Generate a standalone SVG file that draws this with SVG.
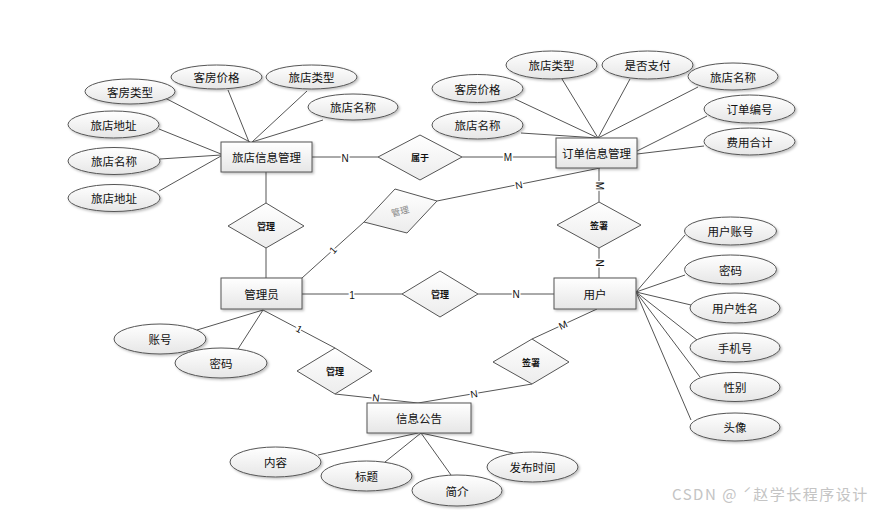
<svg xmlns="http://www.w3.org/2000/svg" width="874" height="510" viewBox="0 0 874 510">
<defs>
<linearGradient id="g" x1="0" y1="0" x2="0" y2="1">
<stop offset="0" stop-color="#ffffff"/>
<stop offset="1" stop-color="#e6e6e6"/>
</linearGradient>
<linearGradient id="gd" x1="0" y1="0" x2="0" y2="1">
<stop offset="0" stop-color="#ffffff"/>
<stop offset="1" stop-color="#ececec"/>
</linearGradient>
<filter id="sh" x="-20%" y="-20%" width="140%" height="150%">
<feDropShadow dx="1.5" dy="1.5" stdDeviation="1" flood-color="#000" flood-opacity="0.25"/>
</filter>
</defs>
<style>
.e{fill:url(#g);stroke:#555;stroke-width:1;filter:url(#sh)}
.a{fill:url(#g);stroke:#555;stroke-width:1;filter:url(#sh)}
.d{fill:url(#gd);stroke:#555;stroke-width:1}
.c line,.c polyline{stroke:#555;stroke-width:1;fill:none}
text{font-family:"Noto Sans CJK SC","Liberation Sans",sans-serif;fill:#111}
.t{font-size:11.5px;text-anchor:middle;dominant-baseline:central}
.dt{font-size:9px;font-weight:bold;text-anchor:middle;dominant-baseline:central}
.l{font-family:"Liberation Sans",sans-serif;font-size:10px;text-anchor:middle;dominant-baseline:central;stroke:#fff;stroke-width:3;paint-order:stroke}
</style>
<rect width="874" height="510" fill="#fff"/>

<g class="c" id="connectors">
<line x1="165" y1="98" x2="250" y2="142"/>
<line x1="228" y1="90" x2="249" y2="142"/>
<line x1="307" y1="91" x2="252" y2="142"/>
<line x1="323" y1="120" x2="252" y2="142"/>
<line x1="159" y1="129" x2="221" y2="154"/>
<line x1="160" y1="159" x2="221" y2="155"/>
<line x1="159" y1="191" x2="221" y2="156"/>
<line x1="312" y1="157" x2="378" y2="157"/>
<line x1="462" y1="157" x2="556" y2="157"/>
<line x1="515" y1="99" x2="598" y2="138"/>
<line x1="521" y1="133" x2="598" y2="138"/>
<line x1="562" y1="79" x2="598" y2="138"/>
<line x1="630" y1="79" x2="598" y2="138"/>
<line x1="698" y1="87" x2="598" y2="138"/>
<line x1="707" y1="116" x2="637" y2="151"/>
<line x1="704" y1="146" x2="637" y2="154"/>
<line x1="599" y1="168" x2="599" y2="202"/>
<line x1="599" y1="248" x2="599" y2="278"/>
<line x1="600" y1="168" x2="437" y2="201"/>
<line x1="364" y1="222" x2="302" y2="278"/>
<line x1="266" y1="172" x2="266" y2="203"/>
<line x1="266" y1="248" x2="266" y2="278"/>
<line x1="302" y1="294" x2="402" y2="294"/>
<line x1="478" y1="294" x2="554" y2="294"/>
<line x1="636" y1="292" x2="685" y2="235"/>
<line x1="636" y1="292" x2="685" y2="275"/>
<line x1="636" y1="292" x2="691" y2="305"/>
<line x1="636" y1="292" x2="697" y2="340"/>
<line x1="636" y1="292" x2="700" y2="377"/>
<line x1="636" y1="292" x2="691" y2="420"/>
<line x1="597" y1="309" x2="532" y2="339"/>
<line x1="532" y1="384" x2="418" y2="403"/>
<line x1="263" y1="310" x2="335" y2="348"/>
<line x1="335" y1="394" x2="418" y2="403"/>
<line x1="197" y1="330" x2="263" y2="310"/>
<line x1="238" y1="349" x2="263" y2="310"/>
<line x1="318" y1="455" x2="418" y2="433"/>
<line x1="385" y1="462" x2="421" y2="433"/>
<line x1="451" y1="475" x2="421" y2="433"/>
<line x1="513" y1="453" x2="421" y2="433"/>
<text class="l" x="345" y="158">N</text>
<text class="l" x="508" y="157">M</text>
<text class="l" x="599" y="186" transform="rotate(90 599 186)">M</text>
<text class="l" x="599" y="263" transform="rotate(90 599 263)">N</text>
<text class="l" x="519" y="185" transform="rotate(-11 519 185)">N</text>
<text class="l" x="333" y="250" transform="rotate(-48 333 250)">1</text>
<text class="l" x="352" y="295">1</text>
<text class="l" x="516" y="294">N</text>
<text class="l" x="563" y="325" transform="rotate(-25 563 325)">M</text>
<text class="l" x="474" y="394" transform="rotate(-9 474 394)">N</text>
<text class="l" x="299" y="329" transform="rotate(28 299 329)">1</text>
<text class="l" x="376" y="398" transform="rotate(6 376 398)">N</text>
</g>

<g id="hotel"><rect class="e" x="221" y="142" width="91" height="30"/><text class="t" x="266.5" y="157">旅店信息管理</text></g>
<g id="order"><rect class="e" x="556" y="138" width="81" height="30"/><text class="t" x="596.5" y="153">订单信息管理</text></g>
<g id="admin"><rect class="e" x="221" y="278" width="81" height="31"/><text class="t" x="261.5" y="293.5">管理员</text></g>
<g id="user"><rect class="e" x="554" y="278" width="82" height="31"/><text class="t" x="595" y="293.5">用户</text></g>
<g id="notice"><rect class="e" x="367" y="403" width="104" height="30"/><text class="t" x="419" y="418">信息公告</text></g>

<g id="r-belong"><polygon class="d" points="378,157 420,135 462,157 420,180"/><text class="dt" x="420" y="157">属于</text></g>
<g id="r-manage-hotel"><polygon class="d" points="228,226 266,203 304,226 266,248"/><text class="dt" x="266" y="226">管理</text></g>
<g id="r-manage-order"><polygon class="d" points="395,189 437,201 407,233 364,222"/><text x="400" y="211" font-size="9" fill="#888" style="fill:#888" text-anchor="middle" dominant-baseline="central" transform="rotate(-15 400 211)">管理</text></g>
<g id="r-sign-order"><polygon class="d" points="557,225 599,202 641,225 599,248"/><text class="dt" x="599" y="225">签署</text></g>
<g id="r-manage-user"><polygon class="d" points="402,294 440,271 478,294 440,317"/><text class="dt" x="440" y="294">管理</text></g>
<g id="r-sign-notice"><polygon class="d" points="493,362 532,339 569,362 532,384"/><text class="dt" x="531" y="362">签署</text></g>
<g id="r-manage-notice"><polygon class="d" points="297,371 335,348 372,371 335,394"/><text class="dt" x="335" y="371">管理</text></g>

<g id="a1"><ellipse class="a" cx="130" cy="91.5" rx="45" ry="12.5"/><text class="t" x="130" y="91.5">客房类型</text></g>
<g id="a2"><ellipse class="a" cx="216.5" cy="77" rx="45.5" ry="12"/><text class="t" x="216.5" y="77">客房价格</text></g>
<g id="a3"><ellipse class="a" cx="311.5" cy="77" rx="45.5" ry="12"/><text class="t" x="311.5" y="77">旅店类型</text></g>
<g id="a4"><ellipse class="a" cx="353" cy="107" rx="45" ry="13"/><text class="t" x="353" y="107">旅店名称</text></g>
<g id="a5"><ellipse class="a" cx="113.5" cy="124.5" rx="45.5" ry="13.5"/><text class="t" x="113.5" y="124.5">旅店地址</text></g>
<g id="a6"><ellipse class="a" cx="114" cy="161" rx="46" ry="13.5"/><text class="t" x="114" y="161">旅店名称</text></g>
<g id="a7"><ellipse class="a" cx="114" cy="198" rx="46" ry="13.5"/><text class="t" x="114" y="198">旅店地址</text></g>

<g id="b1"><ellipse class="a" cx="551.5" cy="65" rx="45.5" ry="14"/><text class="t" x="551.5" y="65">旅店类型</text></g>
<g id="b2"><ellipse class="a" cx="647.5" cy="65" rx="45.5" ry="14"/><text class="t" x="647.5" y="65">是否支付</text></g>
<g id="b3"><ellipse class="a" cx="733" cy="76.5" rx="45" ry="13.5"/><text class="t" x="733" y="76.5">旅店名称</text></g>
<g id="b4"><ellipse class="a" cx="477.5" cy="88.5" rx="45.5" ry="14"/><text class="t" x="477.5" y="88.5">客房价格</text></g>
<g id="b5"><ellipse class="a" cx="477.5" cy="125" rx="45.5" ry="14"/><text class="t" x="477.5" y="125">旅店名称</text></g>
<g id="b6"><ellipse class="a" cx="749.5" cy="109" rx="45.5" ry="14"/><text class="t" x="749.5" y="109">订单编号</text></g>
<g id="b7"><ellipse class="a" cx="749.5" cy="141.5" rx="45.5" ry="13.5"/><text class="t" x="749.5" y="141.5">费用合计</text></g>

<g id="c1"><ellipse class="a" cx="730.5" cy="231" rx="46" ry="14"/><text class="t" x="730.5" y="231">用户账号</text></g>
<g id="c2"><ellipse class="a" cx="730.5" cy="269.5" rx="46" ry="14.5"/><text class="t" x="730.5" y="269.5">密码</text></g>
<g id="c3"><ellipse class="a" cx="735" cy="308" rx="45" ry="15"/><text class="t" x="735" y="308">用户姓名</text></g>
<g id="c4"><ellipse class="a" cx="735" cy="347.5" rx="45" ry="14.5"/><text class="t" x="735" y="347.5">手机号</text></g>
<g id="c5"><ellipse class="a" cx="735" cy="387" rx="45" ry="14.5"/><text class="t" x="735" y="387">性别</text></g>
<g id="c6"><ellipse class="a" cx="735" cy="427" rx="45" ry="14"/><text class="t" x="735" y="427">头像</text></g>

<g id="d1"><ellipse class="a" cx="160" cy="339" rx="46" ry="15"/><text class="t" x="160" y="339">账号</text></g>
<g id="d2"><ellipse class="a" cx="221" cy="363" rx="46" ry="15"/><text class="t" x="221" y="363">密码</text></g>

<g id="e1"><ellipse class="a" cx="275.5" cy="462" rx="45.5" ry="15"/><text class="t" x="275.5" y="462">内容</text></g>
<g id="e2"><ellipse class="a" cx="366.5" cy="476" rx="45.5" ry="15"/><text class="t" x="366.5" y="476">标题</text></g>
<g id="e3"><ellipse class="a" cx="457" cy="490.5" rx="45" ry="15.5"/><text class="t" x="457" y="490.5">简介</text></g>
<g id="e4"><ellipse class="a" cx="532.5" cy="467" rx="45.5" ry="15"/><text class="t" x="532.5" y="467">发布时间</text></g>

<text x="672" y="500" font-size="15" letter-spacing="1.5" style="fill:#c4c4c4">CSDN @ ˊ赵学长程序设计</text>
</svg>
